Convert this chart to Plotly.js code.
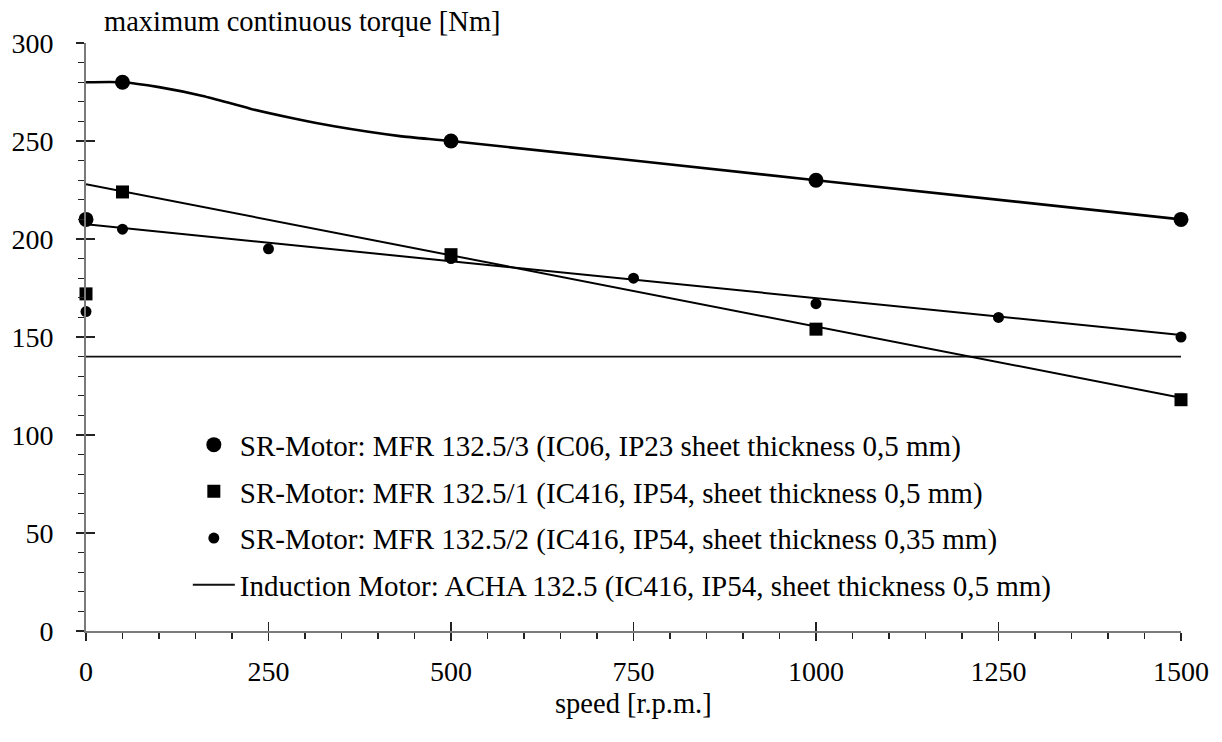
<!DOCTYPE html>
<html><head><meta charset="utf-8">
<script src="https://cdn.plot.ly/plotly-3.0.1.min.js"></script>
<style>html,body{margin:0;padding:0;background:#fff}#chart{width:1222px;height:742px}</style>
</head><body><div id="chart"></div>
<script>
const seriesNames = [
  "SR-Motor: MFR 132.5/3 (IC06, IP23 sheet thickness 0,5 mm)",
  "SR-Motor: MFR 132.5/1 (IC416, IP54, sheet thickness 0,5 mm)",
  "SR-Motor: MFR 132.5/2 (IC416, IP54, sheet thickness 0,35 mm)",
  "Induction Motor: ACHA 132.5 (IC416, IP54, sheet thickness 0,5 mm)"
];
const xTitle = "speed [r.p.m.]";
const yTitle = "maximum continuous torque [Nm]";

const mfr3X = [0, 50, 500, 1000, 1500];
const mfr3Y = [210, 280, 250, 230, 210];
const mfr3CurveX = [0, 50, 100, 160, 225, 285, 340, 430, 500, 1000, 1500];
const mfr3CurveY = [280, 280, 277.5, 273, 266.5, 261.5, 257.5, 252.5, 250, 230, 210];

const mfr1X = [0, 50, 500, 1000, 1500];
const mfr1Y = [172, 224, 192, 154, 118];
const mfr1FitX = [0, 1500];
const mfr1FitY = [228, 119];

const mfr2X = [0, 50, 250, 500, 750, 1000, 1250, 1500];
const mfr2Y = [163, 205, 195, 190, 180, 167, 160, 150];
const mfr2FitX = [0, 1500];
const mfr2FitY = [207.5, 151];

const achaX = [0, 1500];
const achaY = [140, 140];

const FONT = "Liberation Serif";

const traces = [
  {x: mfr3X, y: mfr3Y, mode: 'markers', name: seriesNames[0], legendrank: 1, legendgroup: 'a',
   marker: {symbol: 'circle', size: 15, color: '#000'}, cliponaxis: false},
  {x: mfr1X, y: mfr1Y, mode: 'markers', name: seriesNames[1], legendrank: 2, legendgroup: 'b',
   marker: {symbol: 'square', size: 13, color: '#000'}, cliponaxis: false},
  {x: mfr2X, y: mfr2Y, mode: 'markers', name: seriesNames[2], legendrank: 3, legendgroup: 'c',
   marker: {symbol: 'circle', size: 11, color: '#000'}, cliponaxis: false},
  {x: achaX, y: achaY, mode: 'lines', name: seriesNames[3], legendrank: 4, legendgroup: 'd',
   line: {color: '#111', width: 1.8}, cliponaxis: false},
  {x: mfr3CurveX, y: mfr3CurveY, mode: 'lines', showlegend: false, hoverinfo: 'skip',
   line: {color: '#000', width: 2.6, shape: 'spline', smoothing: 0.6}, cliponaxis: false},
  {x: mfr1FitX, y: mfr1FitY, mode: 'lines', showlegend: false, hoverinfo: 'skip',
   line: {color: '#000', width: 2}, cliponaxis: false},
  {x: mfr2FitX, y: mfr2FitY, mode: 'lines', showlegend: false, hoverinfo: 'skip',
   line: {color: '#000', width: 2}, cliponaxis: false},
  {x: [], y: [], xaxis: 'x2', yaxis: 'y2', showlegend: false, hoverinfo: 'skip', mode: 'markers'}
];

const axCommon = {
  showgrid: false, zeroline: false, fixedrange: true,
  tickfont: {family: FONT, size: 28, color: '#000'}
};

const layout = {
  width: 1222, height: 742,
  margin: {l: 86, r: 41, t: 43, b: 111, pad: 0},
  paper_bgcolor: '#fff', plot_bgcolor: '#fff',
  font: {family: FONT, color: '#000', size: 28},
  showlegend: true,
  legend: {
    x: 0.093, y: 0.36, xanchor: 'left', yanchor: 'top',
    bgcolor: 'rgba(0,0,0,0)', borderwidth: 0,
    font: {family: FONT, size: 29, color: '#000'},
    itemwidth: 42, tracegroupgap: 6, traceorder: 'grouped'
  },
  xaxis: Object.assign({}, axCommon, {
    range: [0, 1500], tickmode: 'linear', tick0: 0, dtick: 250,
    showline: true, linecolor: '#7a7a7a', linewidth: 2,
    ticks: 'outside', ticklen: 8, tickwidth: 1.5, tickcolor: '#222',
    ticklabelstandoff: 6,
    minor: {tickmode: 'linear', tick0: 0, dtick: 50, ticks: 'outside', ticklen: 6, tickwidth: 1.3, tickcolor: '#222'}
  }),
  yaxis: Object.assign({}, axCommon, {
    range: [0, 300], tickmode: 'linear', tick0: 0, dtick: 50,
    showline: true, linecolor: '#7a7a7a', linewidth: 2,
    ticks: 'outside', ticklen: 8, tickwidth: 1.5, tickcolor: '#222',
    ticklabelstandoff: 17,
    minor: {tickmode: 'linear', tick0: 0, dtick: 10, ticks: 'outside', ticklen: 6, tickwidth: 1.3, tickcolor: '#222'}
  }),
  xaxis2: {overlaying: 'x', anchor: 'y2', range: [0, 1500], tickmode: 'linear', tick0: 0, dtick: 250,
    ticks: 'inside', ticklen: 9, tickwidth: 1.5, tickcolor: '#222', showticklabels: false,
    showline: false, showgrid: false, zeroline: false, fixedrange: true},
  yaxis2: {overlaying: 'y', anchor: 'x2', range: [0, 300], tickmode: 'linear', tick0: 0, dtick: 50,
    ticks: 'inside', ticklen: 9, tickwidth: 1.5, tickcolor: '#222', showticklabels: false,
    showline: false, showgrid: false, zeroline: false, fixedrange: true},
  annotations: [
    {text: yTitle, xref: 'paper', yref: 'paper', x: 0.0143, y: 1.037, xanchor: 'left', yanchor: 'middle',
     showarrow: false, font: {family: FONT, size: 28.5, color: '#000'}},
    {text: xTitle, xref: 'paper', yref: 'paper', x: 0.5, y: -0.124, xanchor: 'center', yanchor: 'middle',
     showarrow: false, font: {family: FONT, size: 28.5, color: '#000'}}
  ]
};

Plotly.newPlot('chart', traces, layout, {displayModeBar: false, staticPlot: true});
</script>
</body></html>
